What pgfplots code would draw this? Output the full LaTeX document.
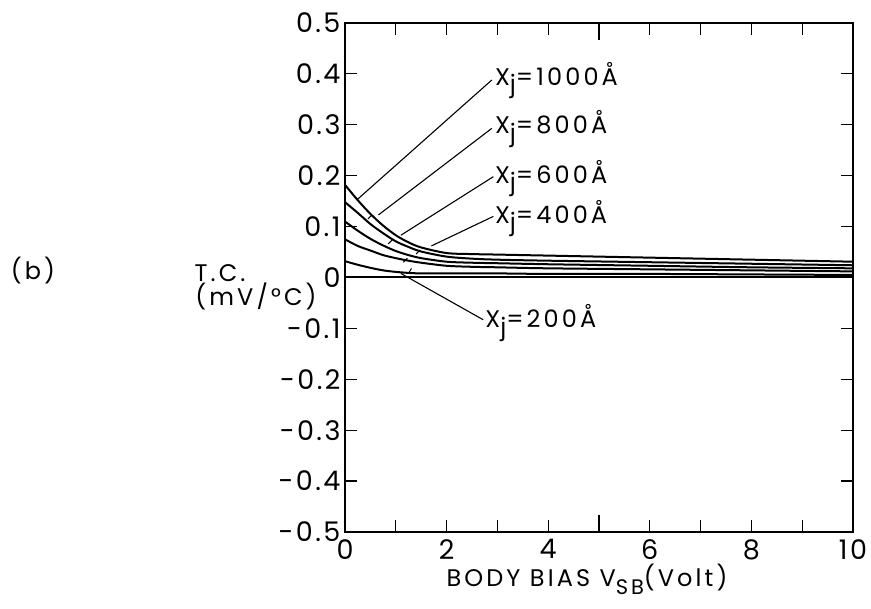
\documentclass[border=0pt]{standalone}
\usepackage{pgfplots}
\pgfplotsset{compat=1.18}
\usepackage{fontspec}
\setmainfont{Poppins}[LetterSpace=9]
\newfontfamily\lett{Poppins}[LetterSpace=13]
\newcommand{\lab}{\fontsize{27}{32}\selectfont}
\newcommand{\txt}{\lett\fontsize{24}{28}\selectfont}
\begin{document}
\begin{tikzpicture}
\useasboundingbox (-345pt,-77pt) rectangle (526pt,532pt);
\begin{axis}[
  at={(0pt,0pt)}, anchor=south west,
  scale only axis, width=508pt, height=509pt,
  xmin=0, xmax=10, ymin=-0.5, ymax=0.5,
  xtick={0,1,2,3,4,6,7,8,9,10},
  xticklabels={0,,2,,4,6,,8,,10},
  extra x ticks={5}, extra x tick labels={},
  extra x tick style={major tick length=17pt},
  ytick={-0.5,-0.4,-0.3,-0.2,-0.1,0,0.1,0.2,0.3,0.4,0.5},
  yticklabels={-0.5,-0.4,-0.3,-0.2,-0.1,0,0.1,0.2,0.3,0.4,0.5},
  /pgf/number format/assume math mode=true,
  tick align=inside, major tick length=12pt,
  tick style={line width=1.2pt, black},
  axis line style={line width=1.6pt},
  tick label style={font=\lab},
  xticklabel style={yshift=-4pt},
  yticklabel style={xshift=-1pt},
  clip=false,
]
\addplot[black, line width=2pt, smooth] coordinates {(0,0.182)(0.25,0.152)(0.5,0.125)(0.75,0.102)(1,0.083)(1.25,0.069)(1.5,0.059)(2,0.048)(2.5,0.046)(3,0.045)(4,0.043)(6,0.039)(8,0.035)(10,0.031)};
\addplot[black, line width=2pt, smooth] coordinates {(0,0.148)(0.25,0.127)(0.5,0.105)(0.75,0.087)(1,0.071)(1.25,0.060)(1.5,0.051)(2,0.041)(2.5,0.037)(3,0.035)(4,0.033)(6,0.030)(8,0.027)(10,0.024)};
\addplot[black, line width=2pt, smooth] coordinates {(0,0.110)(0.25,0.092)(0.5,0.076)(0.75,0.063)(1,0.052)(1.25,0.044)(1.5,0.038)(2,0.031)(2.5,0.029)(3,0.028)(4,0.026)(6,0.023)(8,0.020)(10,0.018)};
\addplot[black, line width=2pt, smooth] coordinates {(0,0.075)(0.25,0.062)(0.5,0.053)(0.75,0.044)(1,0.038)(1.25,0.033)(1.5,0.029)(2,0.023)(2.5,0.021)(3,0.020)(4,0.018)(6,0.016)(8,0.014)(10,0.012)};
\addplot[black, line width=2pt, smooth] coordinates {(0,0.032)(0.25,0.025)(0.5,0.019)(0.75,0.014)(1,0.011)(1.25,0.009)(1.5,0.008)(2,0.008)(3,0.008)(4,0.007)(6,0.007)(8,0.006)(10,0.005)};
\addplot[black, line width=2pt] coordinates {(0,0)(10,0)};
% leader lines
\draw[line width=1.1pt] (axis cs:2.89,0.388) -- (axis cs:0.24,0.153);
\draw[line width=1.1pt] (axis cs:2.89,0.293) -- (axis cs:0.66,0.123);
\draw[line width=1.1pt] (axis cs:2.92,0.198) -- (axis cs:1.10,0.083);
\draw[line width=1.1pt] (axis cs:2.92,0.120) -- (axis cs:1.70,0.062);
\draw[line width=1.1pt] (axis cs:2.72,-0.083) -- (axis cs:1.10,0.008);
% small marks on curves
\draw[line width=1pt] (axis cs:0.45,0.115) -- ++(4pt,4pt);
\draw[line width=1pt] (axis cs:0.85,0.066) -- ++(4pt,4pt);
\draw[line width=1pt] (axis cs:1.40,0.046) -- ++(4pt,4pt);
\draw[line width=1pt] (axis cs:1.15,0.030) -- ++(4pt,4pt);
\draw[line width=1pt] (axis cs:1.25,0.008) -- ++(3pt,5pt);
% labels
\node[anchor=base west, inner sep=0pt, font=\txt] at (axis cs:2.95,0.378) {X\raisebox{-0.55ex}{j}=1000Å};
\node[anchor=base west, inner sep=0pt, font=\txt] at (axis cs:2.95,0.282) {X\raisebox{-0.55ex}{j}=800Å};
\node[anchor=base west, inner sep=0pt, font=\txt] at (axis cs:2.95,0.185) {X\raisebox{-0.55ex}{j}=600Å};
\node[anchor=base west, inner sep=0pt, font=\txt] at (axis cs:2.95,0.107) {X\raisebox{-0.55ex}{j}=400Å};
\node[anchor=base west, inner sep=0pt, font=\txt] at (axis cs:2.76,-0.099) {X\raisebox{-0.55ex}{j}=200Å};
\end{axis}
\node[font=\txt, inner sep=0pt, anchor=base] at (-312pt,252pt) {(b)};
\node[font=\txt, inner sep=0pt, anchor=base] at (-125pt,250pt) {T.C.};
\node[font=\txt, inner sep=0pt, anchor=base] at (-89pt,226pt) {(mV/°C)};
\node[font=\txt, inner sep=0pt, anchor=base] at (242pt,-55pt) {BODY BIAS V\raisebox{-0.6ex}{\fontsize{21}{24}\selectfont SB}(Volt)};
\end{tikzpicture}
\end{document}
